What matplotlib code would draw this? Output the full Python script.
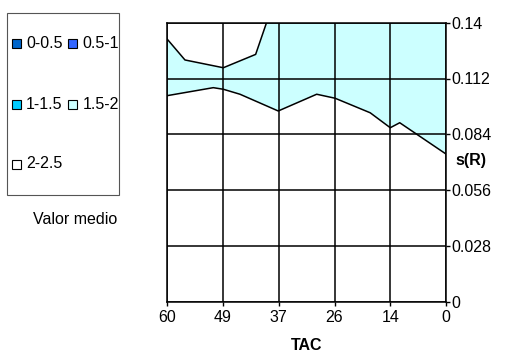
import numpy as np
import matplotlib
matplotlib.use("Agg")
import matplotlib.pyplot as plt
from matplotlib.patches import Rectangle

plt.rcParams['font.family'] = ['Liberation Sans', 'DejaVu Sans']
plt.rcParams['font.size'] = 11.5

# category axis (TAC), reversed in the picture
tac_labels = ['60', '49', '37', '26', '14', '0']

# contour boundaries of the 1.5-2 band (x = category position, y = s(R))
lower_x = [0.0, 0.825, 1.005, 1.304, 1.99, 2.68, 3.01, 3.64, 4.0, 4.17, 5.0]
lower_y = [0.1034, 0.1074, 0.1066, 0.1041, 0.0957, 0.1041, 0.1021, 0.0948, 0.0873, 0.0898, 0.0741]
upper_x = [0.0, 0.317, 1.005, 1.585, 1.78]
upper_y = [0.1317, 0.1213, 0.1174, 0.1241, 0.14]
y_top = 0.14
y_ticks = [0, 0.028, 0.056, 0.084, 0.112, 0.14]

legend_labels = ['0-0.5', '0.5-1', '1-1.5', '1.5-2', '2-2.5']
legend_colors = ['#0066CC', '#3366FF', '#00CCFF', '#CCFFFF', '#FFFFFF']

W, H = 531, 356
fig = plt.figure(figsize=(W / 100, H / 100), dpi=100)
ax = fig.add_axes([167.3 / W, 1 - 301.7 / H, (446 - 167.3) / W, (301.7 - 22.7) / H])

# filled band: lower edge, up the right side, along the top, back down the upper edge
px = lower_x + [5.0] + upper_x[::-1]
py = lower_y + [y_top] + upper_y[::-1]
ax.fill(px, py, color=legend_colors[3], lw=0, zorder=1)
ax.plot(lower_x, lower_y, color='black', lw=1.1, zorder=3)
ax.plot(upper_x, upper_y, color='black', lw=1.1, zorder=3)

ax.set_xlim(0, 5)
ax.set_ylim(0, y_top)
ax.set_xticks(range(len(tac_labels)))
ax.set_xticklabels(tac_labels)
ax.set_yticks(y_ticks)
ax.set_yticklabels(['0', '0.028', '0.056', '0.084', '0.112', '0.14'])
ax.yaxis.tick_right()
ax.grid(True, color='black', lw=1.1, zorder=2)
ax.set_axisbelow(False)
ax.tick_params(axis='both', length=3, width=1, color='black', labelsize=11.5)
ax.tick_params(axis='x', pad=3)
ax.tick_params(axis='y', pad=1)
for s in ax.spines.values():
    s.set_linewidth(1.1)
    s.set_color('black')

fig.text(306.7 / W, 1 - 345 / H, 'TAC', ha='center', va='center', fontweight='bold')
fig.text(471 / W, 1 - 160 / H, 's(R)', ha='center', va='center', fontweight='bold')

# legend box drawn by hand (Excel style: 2 columns, wide row spacing)
fig.patches.append(Rectangle((7.3 / W, 1 - 195 / H), (119 - 7.3) / W, (195 - 13.3) / H,
                             transform=fig.transFigure, fill=False, edgecolor='#555555', lw=0.8))
col_x = [11.7, 68.3]
row_y = [43.3, 104, 164]
for i, (lab, c) in enumerate(zip(legend_labels, legend_colors)):
    r, k = divmod(i, 2)
    mx, my = col_x[k], row_y[r]
    fig.patches.append(Rectangle((mx / W, 1 - (my + 4.5) / H), 9 / W, 9 / H,
                                 transform=fig.transFigure, facecolor=c, edgecolor='black', lw=0.8))
    fig.text((mx + 14.5) / W, 1 - my / H, lab, ha='left', va='center')
fig.text(75.5 / W, 1 - 219 / H, 'Valor medio', ha='center', va='center')

fig.savefig('out.png', dpi=100)
